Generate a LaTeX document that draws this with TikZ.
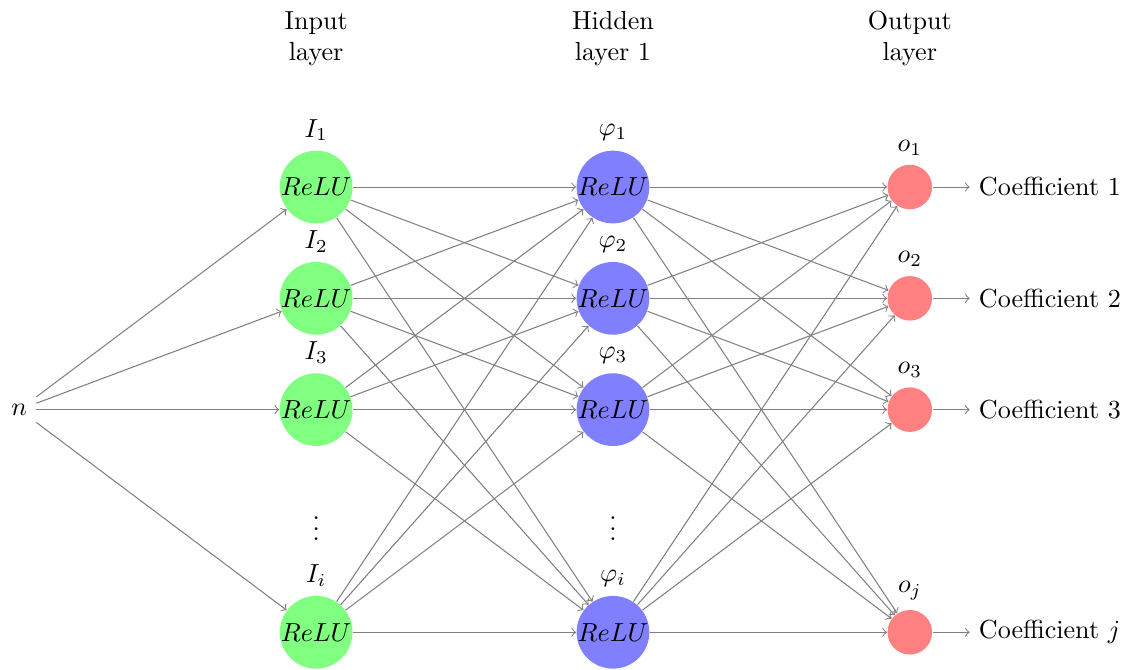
\documentclass[tikz,border=0pt]{standalone}
\usepackage{amsmath}
\usepackage{tikz}
\usetikzlibrary{positioning}
\tikzset{
  inneuron/.style={shape=circle, fill=green!50, inner sep=0pt, minimum size=0.98cm},
  hidneuron/.style={shape=circle, fill=blue!50, inner sep=0pt, minimum size=0.98cm},
  outneuron/.style={shape=circle, fill=red!50, inner sep=0pt, minimum size=0.6cm},
  edge/.style={->, gray}
}
\begin{document}
\begin{tikzpicture}
\useasboundingbox (-4.26, 2.52) rectangle (10.94, -6.50);
\node at (-4, -3) (n) {$n$};
% input layer
\node at (0, 0) [inneuron, label=above:$I_1$] (I1) {$ReLU$};
\node at (0, -1.5) [inneuron, label=above:$I_2$] (I2) {$ReLU$};
\node at (0, -3) [inneuron, label=above:$I_3$] (I3) {$ReLU$};
\node at (0, -4.5) (Idots) {$\vdots$};
\node at (0, -6) [inneuron, label=above:$I_i$] (I4) {$ReLU$};
% hidden layer
\node at (4, 0) [hidneuron, label=above:$\varphi_1$] (H1) {$ReLU$};
\node at (4, -1.5) [hidneuron, label=above:$\varphi_2$] (H2) {$ReLU$};
\node at (4, -3) [hidneuron, label=above:$\varphi_3$] (H3) {$ReLU$};
\node at (4, -4.5) (Hdots) {$\vdots$};
\node at (4, -6) [hidneuron, label=above:$\varphi_i$] (H4) {$ReLU$};
% output layer
\node at (8, 0) [outneuron, label=above:$o_1$] (O1) {};
\node at (8, -1.5) [outneuron, label=above:$o_2$] (O2) {};
\node at (8, -3) [outneuron, label=above:$o_3$] (O3) {};
\node at (8, -6) [outneuron, label=above:$o_j$] (O4) {};
\node [right=0.5cm of O1] (C1) {Coefficient 1};
\node [right=0.5cm of O2] (C2) {Coefficient 2};
\node [right=0.5cm of O3] (C3) {Coefficient 3};
\node [right=0.5cm of O4] (C4) {Coefficient $j$};
% layer titles
\node at (0, 2) [align=center] (Ititle) {Input\\layer};
\node at (4, 2) [align=center] (Htitle) {Hidden\\layer 1};
\node at (8, 2) [align=center] (Otitle) {Output\\layer};
% connections
\foreach \i in {1,2,3,4} {
  \draw [edge] (n) to (I\i);
  \draw [edge] (O\i) to (C\i);
  \foreach \j in {1,2,3,4} {
    \draw [edge] (I\i) to (H\j);
    \draw [edge] (H\i) to (O\j);
  }
}
\end{tikzpicture}
\end{document}
